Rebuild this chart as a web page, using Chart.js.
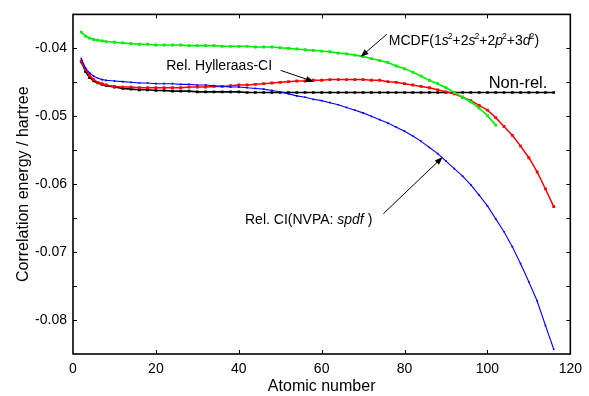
<!DOCTYPE html>
<html>
<head>
<meta charset="utf-8">
<script src="https://cdn.jsdelivr.net/npm/chart.js@4.4.1/dist/chart.umd.min.js"></script>
<style>
  html, body { margin: 0; padding: 0; background: #fff; }
  #wrap { width: 589px; height: 396px; }
</style>
</head>
<body>
<div id="wrap"><canvas id="chart" width="589" height="396"></canvas></div>
<script>
// Atomic numbers sampled along the curves
const zs = [2, 3, 4, 5, 6, 7, 8, 10, 12, 14,
  16, 18, 20, 22, 24, 26, 28, 30, 32, 34,
  36, 38, 40, 42, 44, 46, 48, 50, 52, 54,
  56, 58, 60, 62, 64, 66, 68, 70, 72, 74,
  76, 78, 80, 82, 84, 86, 88, 90, 92, 94,
  96, 98, 100, 102, 104, 106, 108, 110, 112, 114,
  116];

// Non-rel.
const nonRel = [-0.0420, -0.0434, -0.0443, -0.0448, -0.0451, -0.0453, -0.0455, -0.0457, -0.0459, -0.0460,
  -0.0461, -0.0461, -0.0462, -0.0462, -0.0463, -0.0463, -0.0463, -0.0464, -0.0464, -0.0464,
  -0.0464, -0.0464, -0.0464, -0.0465, -0.0465, -0.0465, -0.0465, -0.0465, -0.0465, -0.0465,
  -0.0465, -0.0465, -0.0465, -0.0465, -0.0465, -0.0465, -0.0465, -0.0465, -0.0465, -0.0465,
  -0.0465, -0.0465, -0.0465, -0.0465, -0.0465, -0.0465, -0.0465, -0.0465, -0.0465, -0.0465,
  -0.0465, -0.0465, -0.0465, -0.0465, -0.0465, -0.0465, -0.0465, -0.0465, -0.0465, -0.0465,
  -0.0465];

// Rel. Hylleraas-CI
const hylleraas = [-0.0419, -0.0431, -0.0440, -0.0446, -0.0450, -0.0452, -0.0454, -0.0456, -0.0457, -0.0457,
  -0.0458, -0.0458, -0.0458, -0.0458, -0.0458, -0.0458, -0.0457, -0.0457, -0.0457, -0.0456,
  -0.0456, -0.0455, -0.0454, -0.0454, -0.0453, -0.0452, -0.0451, -0.0450, -0.0449, -0.0448,
  -0.0448, -0.0447, -0.0447, -0.0446, -0.0446, -0.0446, -0.0446, -0.0446, -0.0447, -0.0447,
  -0.0449, -0.0450, -0.0452, -0.0454, -0.0456, -0.0458, -0.0461, -0.0464, -0.0467, -0.0472,
  -0.0477, -0.0484, -0.0491, -0.0502, -0.0515, -0.0528, -0.0544, -0.0561, -0.0582, -0.0607,
  -0.0633];

// Rel. CI (NVPA: spdf)
const relCI = [-0.0415, -0.0429, -0.0436, -0.0441, -0.0444, -0.0446, -0.0447, -0.0448, -0.0449, -0.0450,
  -0.0451, -0.0451, -0.0452, -0.0452, -0.0452, -0.0453, -0.0453, -0.0454, -0.0454, -0.0455,
  -0.0456, -0.0457, -0.0457, -0.0458, -0.0459, -0.0460, -0.0462, -0.0464, -0.0467, -0.0470,
  -0.0472, -0.0475, -0.0477, -0.0480, -0.0483, -0.0487, -0.0491, -0.0495, -0.0500, -0.0505,
  -0.0510, -0.0516, -0.0522, -0.0529, -0.0537, -0.0546, -0.0555, -0.0566, -0.0577, -0.0588,
  -0.0601, -0.0616, -0.0632, -0.0651, -0.0670, -0.0692, -0.0717, -0.0744, -0.0772, -0.0808,
  -0.0843];

// MCDF (stops at Z = 102)
const mcdf = [-0.0376, -0.0382, -0.0385, -0.0387, -0.0388, -0.0389, -0.0390, -0.0391, -0.0392, -0.0393,
  -0.0394, -0.0394, -0.0395, -0.0395, -0.0395, -0.0395, -0.0396, -0.0396, -0.0396, -0.0396,
  -0.0397, -0.0397, -0.0397, -0.0397, -0.0398, -0.0398, -0.0398, -0.0399, -0.0400, -0.0401,
  -0.0402, -0.0403, -0.0404, -0.0405, -0.0407, -0.0408, -0.0410, -0.0412, -0.0415, -0.0418,
  -0.0421, -0.0426, -0.0430, -0.0435, -0.0441, -0.0447, -0.0452, -0.0458, -0.0465, -0.0472,
  -0.0479, -0.0488, -0.0499, -0.0513];

const xTicks = [0, 20, 40, 60, 80, 100, 120];
const yLabelled = [-0.04, -0.05, -0.06, -0.07, -0.08];

const FONT = "'Liberation Sans', Arial, Helvetica, sans-serif";
Chart.defaults.font.family = FONT;
Chart.defaults.color = '#000';

const pts = (ys) => ys.map((y, i) => ({ x: zs[i], y }));

const series = (data, color, radius, width) => ({
    data: pts(data),
    borderColor: color,
    backgroundColor: color,
    borderWidth: width,
    pointStyle: 'rect',
    pointRadius: radius,
    pointBorderWidth: 0,
    tension: 0
});

// --- annotations (positions in data units) ---
const notes = [
    { kind: 'mcdf', x: 76.2, y: -0.03948, size: 14 },
    { text: 'Rel. Hylleraas-CI', x: 22.5, y: -0.04324, size: 14 },
    { text: 'Non-rel.', x: 100.3, y: -0.04588, size: 16.5 },
    { kind: 'ci', x: 41.5, y: -0.06588, size: 14 }
];
const arrows = [
    { from: [75.7, -0.03793], to: [69.4, -0.04125] },
    { from: [50.1, -0.04324], to: [58.1, -0.04490] },
    { from: [74.9, -0.06434], to: [89.2, -0.05600] }
];

const drawSegs = (ctx, segs, x, y, size) => {
    segs.forEach(s => {
        if (s.sup) {
            ctx.font = `${size * 0.62}px ${FONT}`;
            ctx.fillText(s.t, x - 1, y - size * 0.45);
            x += ctx.measureText(s.t).width - 1;
        } else {
            ctx.font = `${s.i ? 'italic ' : ''}${size}px ${FONT}`;
            ctx.fillText(s.t, x, y);
            x += ctx.measureText(s.t).width;
        }
    });
};

const arrowHead = (ctx, x1, y1, x2, y2) => {
    const a = Math.atan2(y2 - y1, x2 - x1);
    const len = 8, w = 3;
    ctx.beginPath();
    ctx.moveTo(x1, y1);
    ctx.lineTo(x2 - Math.cos(a) * 2, y2 - Math.sin(a) * 2);
    ctx.stroke();
    ctx.beginPath();
    ctx.moveTo(x2, y2);
    ctx.lineTo(x2 - len * Math.cos(a) + w * Math.sin(a), y2 - len * Math.sin(a) - w * Math.cos(a));
    ctx.lineTo(x2 - len * Math.cos(a) - w * Math.sin(a), y2 - len * Math.sin(a) + w * Math.cos(a));
    ctx.closePath();
    ctx.fill();
};

const framePlugin = {
    id: 'frame',
    afterDraw(chart) {
        const { ctx, chartArea: a, scales } = chart;
        const xs = scales.x, ys = scales.y;
        ctx.save();
        ctx.strokeStyle = '#000';
        ctx.fillStyle = '#000';
        ctx.lineWidth = 1.6;
        ctx.strokeRect(a.left, a.top, a.right - a.left, a.bottom - a.top);

        // inward ticks on all four sides
        ctx.lineWidth = 1;
        const tl = 4;
        ctx.beginPath();
        xTicks.slice(1, -1).forEach(v => {
            const px = Math.round(xs.getPixelForValue(v)) + 0.5;
            ctx.moveTo(px, a.bottom); ctx.lineTo(px, a.bottom - tl);
            ctx.moveTo(px, a.top); ctx.lineTo(px, a.top + tl);
        });
        ys.ticks.slice(1, -1).forEach(t => {
            const py = Math.round(ys.getPixelForValue(t.value)) + 0.5;
            ctx.moveTo(a.left, py); ctx.lineTo(a.left + tl, py);
            ctx.moveTo(a.right, py); ctx.lineTo(a.right - tl, py);
        });
        ctx.stroke();

        // annotation texts
        ctx.textBaseline = 'alphabetic';
        ctx.textAlign = 'left';
        notes.forEach(n => {
            const px = xs.getPixelForValue(n.x), py = ys.getPixelForValue(n.y);
            if (n.kind === 'mcdf') {
                drawSegs(ctx, [
                    { t: 'MCDF(1' }, { t: 's', i: true }, { t: '2', sup: true },
                    { t: '+2' }, { t: 's', i: true }, { t: '2', sup: true },
                    { t: '+2' }, { t: 'p', i: true }, { t: '2', sup: true },
                    { t: '+3' }, { t: 'd', i: true }, { t: '2', sup: true },
                    { t: ')' }
                ], px, py, n.size);
            } else if (n.kind === 'ci') {
                drawSegs(ctx, [
                    { t: 'Rel. CI(NVPA: ' }, { t: 'spdf', i: true }, { t: ' )' }
                ], px, py, n.size);
            } else {
                ctx.font = `${n.size}px ${FONT}`;
                ctx.fillText(n.text, px, py);
            }
        });

        ctx.lineWidth = 1;
        arrows.forEach(ar => {
            arrowHead(ctx,
                xs.getPixelForValue(ar.from[0]), ys.getPixelForValue(ar.from[1]),
                xs.getPixelForValue(ar.to[0]), ys.getPixelForValue(ar.to[1]));
        });
        ctx.restore();
    }
};

new Chart(document.getElementById('chart'), {
    type: 'line',
    data: {
        datasets: [
            series(mcdf, '#00f000', 2, 1.6),
            series(relCI, '#0000ff', 1.2, 1.1),
            series(hylleraas, '#ff0000', 2, 1.5),
            series(nonRel, '#000000', 1.9, 1.6)
        ]
    },
    options: {
        responsive: false,
        animation: false,
        devicePixelRatio: 1,
        layout: { padding: { top: 8, right: 16, left: 0, bottom: 0 } },
        plugins: { legend: { display: false }, tooltip: { enabled: false } },
        scales: {
            x: {
                type: 'linear',
                min: 0, max: 120,
                grid: { display: false, drawTicks: false },
                border: { display: false },
                ticks: { stepSize: 20, padding: 7, font: { size: 14 }, color: '#000' },
                title: { display: true, text: 'Atomic number', font: { size: 16 }, color: '#000', padding: { top: 0, bottom: 0 } },
                afterFit: (s) => { s.height = 42; }
            },
            y: {
                type: 'linear',
                min: -0.085, max: -0.035,
                grid: { display: false, drawTicks: false },
                border: { display: false },
                ticks: {
                    stepSize: 0.005, padding: 6, autoSkip: false, font: { size: 14 }, color: '#000',
                    callback: (v) => yLabelled.some(l => Math.abs(l - v) < 1e-6) ? v.toFixed(2) : ''
                },
                title: { display: true, text: 'Correlation energy / hartree', font: { size: 16 }, color: '#000', padding: { top: 14, bottom: 0 } },
                afterFit: (s) => { s.width = 73; }
            }
        }
    },
    plugins: [framePlugin]
});
</script>
</body>
</html>
